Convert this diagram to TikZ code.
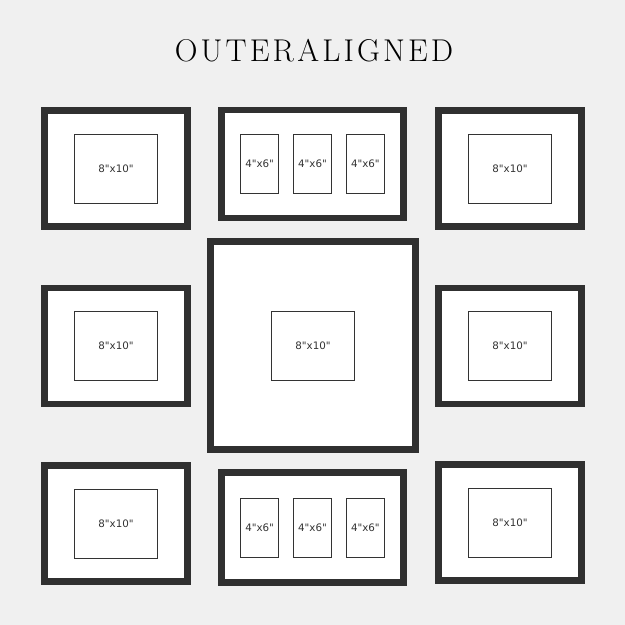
\documentclass[tikz,border=0pt]{standalone}
\usepackage{fontspec}
\usepackage{tikz}
\usetikzlibrary{positioning}

\newfontfamily\labelfont{DejaVu Sans}
\newfontfamily\titlefont{Latin Modern Roman}[LetterSpace=10]

\definecolor{wallgray}{HTML}{F0F0F0}
\definecolor{framegray}{HTML}{303030}
\definecolor{inkgray}{HTML}{333333}

\begin{document}
\begin{tikzpicture}[x=1pt,y=1pt]
    \tikzstyle{frame} = [rectangle,draw=framegray,line width=6.8pt,fill=white,inner sep=0pt]
    \tikzstyle{wideframe} = [frame,minimum width=143pt,minimum height=116pt]
    \tikzstyle{tripleframe} = [frame,minimum width=182pt,minimum height=108pt]
    \tikzstyle{bigframe} = [frame,minimum width=205pt,minimum height=208pt]
    \tikzstyle{photo} = [rectangle,draw=inkgray,line width=0.9pt,fill=white,inner sep=0pt,text=inkgray,font=\labelfont\fontsize{10.3}{12}\selectfont]
    \tikzstyle{big photo} = [photo,minimum width=83pt,minimum height=69pt]
    \tikzstyle{small photo} = [photo,minimum width=38pt,minimum height=59pt]

    \useasboundingbox [fill=wallgray] (0,0) rectangle (625,-625);

    \node (title) [anchor=base,text=black] at (314,-61.7) {\titlefont\fontsize{31.5}{33}\selectfont OUTERALIGNED};

    % top row
    \node (tl) [wideframe] at (116,-168.5) {};
    \node (tl photo) [big photo] at (tl.center) {8"x10"};

    \node (tm) [tripleframe] at (312.5,-164) {};
    \node (tm photo b) [small photo] at (tm.center) {4"x6"};
    \node (tm photo a) [small photo,left=14pt of tm photo b] {4"x6"};
    \node (tm photo c) [small photo,right=14pt of tm photo b] {4"x6"};

    \node (tr) [wideframe] at (510,-168.5) {};
    \node (tr photo) [big photo] at (tr.center) {8"x10"};

    % middle row
    \node (centre) [bigframe] at (313,-345.5) {};
    \node (centre photo) [big photo] at (centre.center) {8"x10"};

    \node (ml) [wideframe] at (116,-346) {};
    \node (ml photo) [big photo] at (ml.center) {8"x10"};

    \node (mr) [wideframe] at (510,-346) {};
    \node (mr photo) [big photo] at (mr.center) {8"x10"};

    % bottom row
    \node (bl) [wideframe] at (116,-523.5) {};
    \node (bl photo) [big photo] at (bl.center) {8"x10"};

    \node (bm) [tripleframe,minimum height=110pt] at (312.5,-527.5) {};
    \node (bm photo b) [small photo] at (bm.center) {4"x6"};
    \node (bm photo a) [small photo,left=14pt of bm photo b] {4"x6"};
    \node (bm photo c) [small photo,right=14pt of bm photo b] {4"x6"};

    \node (br) [wideframe] at (510,-522.5) {};
    \node (br photo) [big photo] at (br.center) {8"x10"};

\end{tikzpicture}
\end{document}
